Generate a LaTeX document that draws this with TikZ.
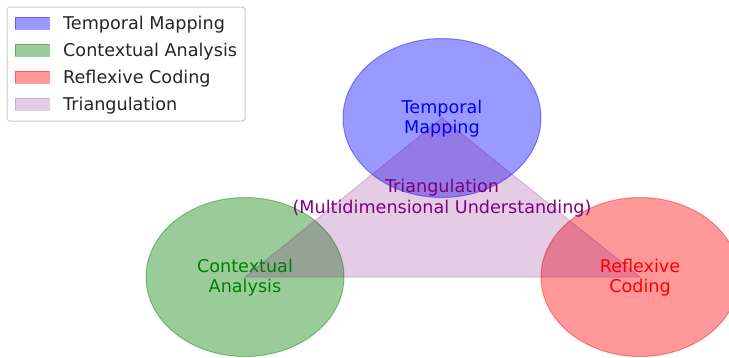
\documentclass[tikz,border=0pt]{standalone}
\usepackage{fontspec}
\setmainfont{DejaVu Sans}
\usetikzlibrary{shapes.geometric}
\definecolor{mplblue}{RGB}{0,0,255}
\definecolor{mplgreen}{RGB}{0,128,0}
\definecolor{mplred}{RGB}{255,0,0}
\definecolor{mplpurple}{RGB}{128,0,128}
\definecolor{legtext}{RGB}{38,38,38}
\definecolor{legedge}{RGB}{204,204,204}
\begin{document}
\begin{tikzpicture}[x=1pt,y=-1pt,
  lbl/.style={font=\fontsize{17.6}{20.6}\selectfont, align=center, inner sep=0pt},
  legtxt/.style={font=\fontsize{17.6}{20.6}\selectfont, inner sep=0pt, anchor=base west, text=legtext},
  blob/.style={ellipse, minimum width=198pt, minimum height=159pt, inner sep=0pt, outer sep=0pt,
    fill opacity=0.4, draw opacity=0.4, line width=1pt},
  tri/.style={fill=mplpurple, fill opacity=0.2, draw=mplpurple, draw opacity=0.2, line width=1pt, line join=miter},
  legpatch/.style={rectangle, minimum width=34pt, minimum height=12pt, inner sep=0pt,
    fill opacity=0.4, draw opacity=0.4, line width=1pt},
  legtri/.style={rectangle, minimum width=34pt, minimum height=12pt, inner sep=0pt,
    fill=mplpurple, fill opacity=0.2, draw=mplpurple, draw opacity=0.2, line width=1pt}]
\useasboundingbox (0,0) rectangle (729,357);
\fill[white] (0,0) rectangle (729,357);
\begin{scope}
\clip (0,0) rectangle (729,357);
\node[blob, fill=mplblue, draw=mplblue] (tm) at (442,118) {};
\node[blob, fill=mplgreen, draw=mplgreen] (ca) at (245,277) {};
\node[blob, fill=mplred, draw=mplred] (rc) at (640,277) {};
\path[tri] (tm.center) -- (ca.center) -- (rc.center) -- cycle;
\end{scope}
\node[lbl, text=mplblue] (tmlbl) at (442,118.5) {Temporal\\Mapping};
\node[lbl, text=mplgreen] (calbl) at (245,277.5) {Contextual\\Analysis};
\node[lbl, text=mplred] (rclbl) at (640,277.5) {Reflexive\\Coding};
\node[lbl, text=mplpurple] (trlbl) at (442,198) {Triangulation\\(Multidimensional Understanding)};
% legend
\node[draw=legedge, line width=1pt, rounded corners=3pt, fill=white, fill opacity=0.8,
  minimum width=238pt, minimum height=114pt, inner sep=0pt] (legend) at (126,64) {};
\node[legpatch, fill=mplblue, draw=mplblue] (lp1) at (32,23) {};
\node[legpatch, fill=mplgreen, draw=mplgreen] (lp2) at (32,50) {};
\node[legpatch, fill=mplred, draw=mplred] (lp3) at (32,77) {};
\node[legtri] (lp4) at (32,104) {};
\node[legtxt] (lt1) at (63,29.5) {Temporal Mapping};
\node[legtxt] (lt2) at (63,56.5) {Contextual Analysis};
\node[legtxt] (lt3) at (63,83.5) {Reflexive Coding};
\node[legtxt] (lt4) at (63,110.5) {Triangulation};
\end{tikzpicture}
\end{document}
